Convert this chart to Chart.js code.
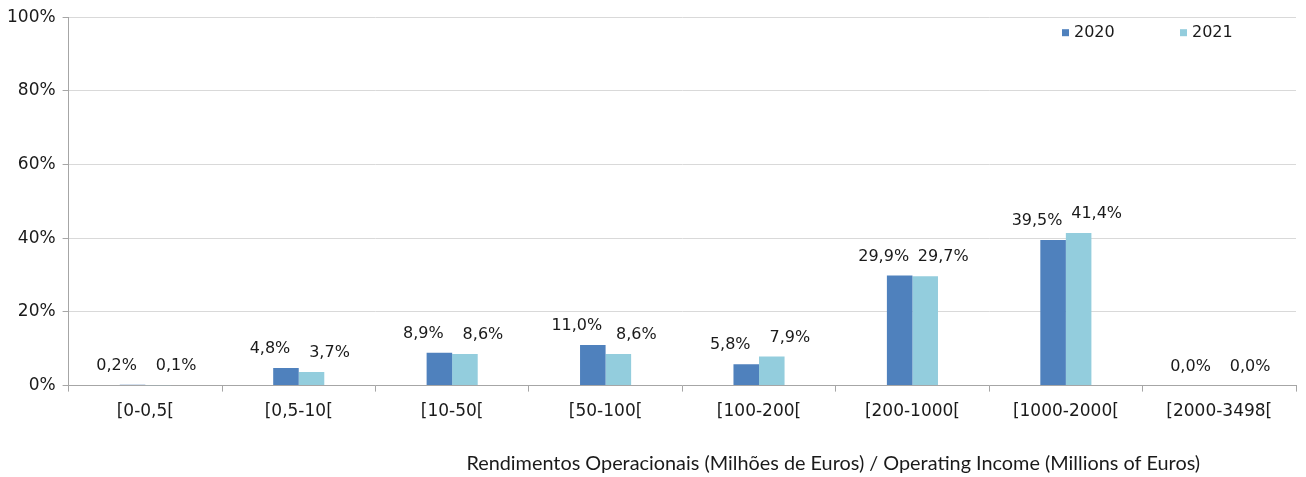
<!DOCTYPE html>
<html><head><meta charset="utf-8">
<script src="https://cdn.jsdelivr.net/npm/chart.js@4.4.1/dist/chart.umd.min.js"></script>
<style>html,body{margin:0;padding:0;background:#fff}#wrap{width:1306px;height:477px}</style>
</head><body><div id="wrap"><canvas id="c" width="1306" height="477"></canvas></div>
<script>
const categories = ['[0-0,5[', '[0,5-10[', '[10-50[', '[50-100[', '[100-200[', '[200-1000[', '[1000-2000[', '[2000-3498['];
const values2020 = [0.2, 4.8, 8.9, 11.0, 5.8, 29.9, 39.5, 0.0];
const values2021 = [0.1, 3.7, 8.6, 8.6, 7.9, 29.7, 41.4, 0.0];
const yTicks = [0, 20, 40, 60, 80, 100];
const axisTitle = 'Rendimentos Operacionais (Milhões de Euros) / Operating Income (Millions of Euros)';

const FONT = 'DejaVu Sans';
const TXT = '#1a1a1a';

const labelPlugin = {
  id: 'barLabels',
  afterDatasetsDraw(chart) {
    const ctx = chart.ctx;
    ctx.save();
    ctx.font = '16px "' + FONT + '"';
    ctx.fillStyle = TXT;
    ctx.textAlign = 'center';
    ctx.textBaseline = 'middle';
    chart.data.datasets.forEach((ds, di) => {
      const meta = chart.getDatasetMeta(di);
      const dx = di === 0 ? -16 : 18;
      meta.data.forEach((bar, i) => {
        const v = ds.data[i];
        const txt = v.toFixed(1).replace('.', ',') + '%';
        ctx.fillText(txt, bar.x + dx, bar.y - 19);
      });
    });
    ctx.restore();
  }
};

const legendPlugin = {
  id: 'insideLegend',
  afterDraw(chart) {
    const ctx = chart.ctx;
    const a = chart.chartArea;
    ctx.save();
    ctx.font = '16px "' + FONT + '"';
    ctx.textBaseline = 'middle';
    ctx.textAlign = 'left';
    const ds = chart.data.datasets;
    const step = 118;
    const startX = a.right - 60 - step * (ds.length - 1) - 56;
    const y = a.top + 16;
    ds.forEach((d, i) => {
      const x = startX + i * step;
      ctx.fillStyle = d.backgroundColor;
      ctx.fillRect(x, y - 4, 7, 7);
      ctx.fillStyle = TXT;
      ctx.fillText(d.label, x + 12, y);
    });
    ctx.restore();
  }
};

const titlePlugin = {
  id: 'axisTitle',
  afterDraw(chart) {
    const ctx = chart.ctx;
    const a = chart.chartArea;
    ctx.save();
    ctx.font = '18px "Lato"';
    const w = ctx.measureText(axisTitle).width;
    const size = 18 * 734 / w;
    ctx.font = size.toFixed(2) + 'px "Lato"';
    ctx.fillStyle = TXT;
    ctx.textAlign = 'center';
    ctx.textBaseline = 'middle';
    ctx.fillText(axisTitle, a.left + (a.right - a.left) * 0.623, 464);
    ctx.restore();
  }
};

new Chart(document.getElementById('c'), {
  type: 'bar',
  data: {
    labels: categories,
    datasets: [
      { label: '2020', data: values2020, backgroundColor: '#4F81BD', borderWidth: 0 },
      { label: '2021', data: values2021, backgroundColor: '#93CDDD', borderWidth: 0 }
    ]
  },
  options: {
    responsive: false,
    animation: false,
    devicePixelRatio: 1,
    layout: { padding: { left: 0, right: 10, top: 6, bottom: 45 } },
    datasets: { bar: { categoryPercentage: 0.333, barPercentage: 1 } },
    plugins: {
      legend: { display: false },
      tooltip: { enabled: false }
    },
    scales: {
      x: {
        grid: { offset: true, drawOnChartArea: false, tickLength: 6, color: '#a6a6a6' },
        border: { color: '#a6a6a6' },
        ticks: { color: TXT, font: { family: FONT, size: 17 }, padding: 10, maxRotation: 0 }
      },
      y: {
        min: 0, max: 100,
        afterBuildTicks(scale) { scale.ticks = yTicks.map(v => ({ value: v })); },
        grid: { color: '#d9d9d9', tickLength: 6, tickColor: '#a6a6a6' },
        border: { color: '#a6a6a6' },
        ticks: { color: TXT, font: { family: FONT, size: 17 }, padding: 7, callback: v => v + '%' }
      }
    }
  },
  plugins: [labelPlugin, legendPlugin, titlePlugin]
});
</script>
</body></html>
